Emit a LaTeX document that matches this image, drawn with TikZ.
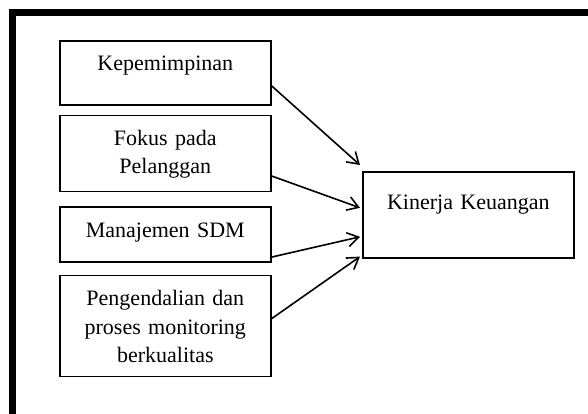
\documentclass[tikz,border=0pt]{standalone}
\usepackage{fontspec}
\setmainfont{Liberation Serif}
\usetikzlibrary{arrows.meta, positioning}
\tikzstyle{arrow} = [line width=1.6pt, -{Straight Barb[length=11pt,width=14pt]}]
\tikzstyle{faktor} = [draw, rectangle, line width=1.6pt, text width=211pt, align=center, inner sep=0pt, text height=30pt, font=\fontsize{22}{28.5}\selectfont]

\begin{document}
\begin{tikzpicture}[x=1pt, y=-1pt]
    \useasboundingbox (0,0) rectangle (588,414);
    \draw[line width=6.5pt] (12.7,420) -- (12.7,12.7) -- (595,12.7);

    \node[faktor, anchor=north west, text depth=34pt] (pimpin) at (59,40) {Kepemimpinan};
    \node[faktor, below=9pt of pimpin, text depth=46pt] (fokus) {Fokus pada\\ Pelanggan};
    \node[faktor, below=14pt of fokus, text depth=25pt] (sdm) {Manajemen SDM};
    \node[faktor, below=12pt of sdm, text depth=71pt] (kendali) {Pengendalian dan\\ proses monitoring\\ berkualitas};

    \node[faktor, anchor=north west, text height=38pt, text depth=48pt] (kinerja) at (362,171) {Kinerja Keuangan};

    \draw[arrow] (pimpin.-7) -- ([xshift=-2pt, yshift=6pt]kinerja.north west);
    \draw[arrow] (fokus.-12) -- ([xshift=-2pt, yshift=7pt]kinerja.west);
    \draw[arrow] (sdm.-12) -- ([xshift=-2pt, yshift=-22pt]kinerja.west);
    \draw[arrow] (kendali.4) -- ([xshift=-2pt, yshift=2pt]kinerja.south west);
\end{tikzpicture}
\end{document}
